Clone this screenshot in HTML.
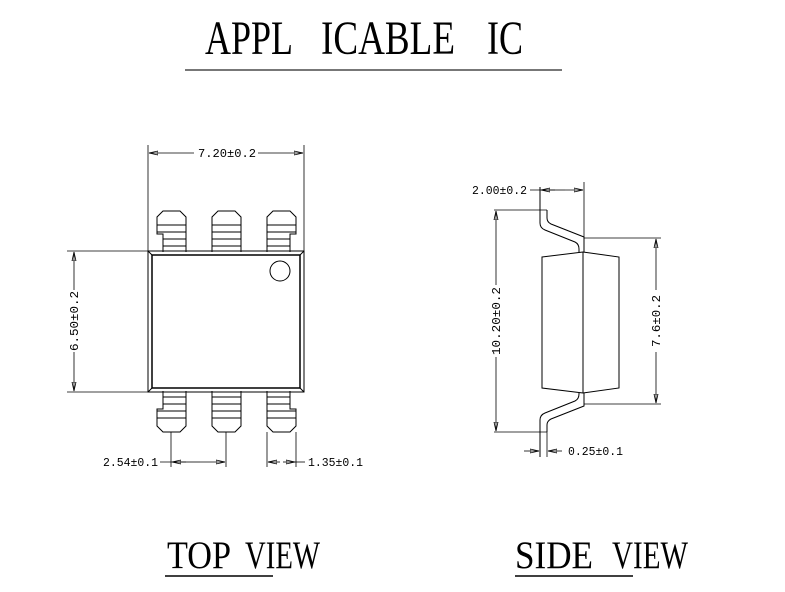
<!DOCTYPE html>
<html><head><meta charset="utf-8"><style>html,body{margin:0;padding:0;background:#fff}svg{display:block}</style></head>
<body>
<svg width="785" height="592" viewBox="0 0 785 592" xmlns="http://www.w3.org/2000/svg">
<defs>
<marker id="a" markerWidth="10" markerHeight="6" refX="9" refY="3" orient="auto" markerUnits="userSpaceOnUse"><path d="M0,1 L9,3 L0,5 Z" fill="none" stroke="#000" stroke-width="0.8"/></marker>
<g id="pinL" fill="none" stroke="#000" stroke-width="1">
<path d="M0,41 L0,23 L-6,23 L-6,6 L0,0 L17,0 L23,6 L23,41"/>
<line x1="-6" y1="14" x2="23" y2="14"/><line x1="-6" y1="21" x2="23" y2="21"/>
<line x1="0" y1="28" x2="23" y2="28"/><line x1="0" y1="35" x2="23" y2="35"/>
</g>
<g id="pinM" fill="none" stroke="#000" stroke-width="1">
<path d="M0,41 L0,6 L6,0 L23,0 L29,6 L29,41"/>
<line x1="0" y1="14" x2="29" y2="14"/><line x1="0" y1="21" x2="29" y2="21"/>
<line x1="0" y1="28" x2="29" y2="28"/><line x1="0" y1="35" x2="29" y2="35"/>
</g>
</defs>
<g font-family="'Liberation Serif', serif" fill="#000">
<text x="205" y="54" font-size="48" textLength="88" lengthAdjust="spacingAndGlyphs">APPL</text>
<text x="321" y="54" font-size="48" textLength="134" lengthAdjust="spacingAndGlyphs">ICABLE</text>
<text x="487" y="54" font-size="48" textLength="36" lengthAdjust="spacingAndGlyphs">IC</text>
<line x1="185" y1="70" x2="562" y2="70" stroke="#777" stroke-width="2"/>
<text x="167" y="568" font-size="39" textLength="64" lengthAdjust="spacingAndGlyphs">TOP</text>
<text x="245" y="568" font-size="39" textLength="75" lengthAdjust="spacingAndGlyphs">VIEW</text>
<line x1="165" y1="576" x2="273" y2="576" stroke="#000" stroke-width="1.5"/>
<text x="515" y="568" font-size="39" textLength="78" lengthAdjust="spacingAndGlyphs">SIDE</text>
<text x="612" y="568" font-size="39" textLength="76" lengthAdjust="spacingAndGlyphs">VIEW</text>
<line x1="515" y1="576" x2="633" y2="576" stroke="#000" stroke-width="1.5"/>
</g>
<g fill="none" stroke="#000" stroke-width="1">
<rect x="148" y="251" width="156" height="141"/>
<rect x="152" y="255" width="148" height="133" stroke-width="1.5"/>
<line x1="148" y1="251" x2="152" y2="255"/><line x1="304" y1="251" x2="300" y2="255"/>
<line x1="148" y1="392" x2="152" y2="388"/><line x1="304" y1="392" x2="300" y2="388"/>
<circle cx="280" cy="271" r="10"/>
</g>
<use href="#pinL" x="163" y="211"/>
<use href="#pinM" x="212" y="211"/>
<use href="#pinL" transform="translate(290,211) scale(-1,1)"/>
<use href="#pinL" transform="translate(163,432) scale(1,-1)"/>
<use href="#pinM" transform="translate(212,432) scale(1,-1)"/>
<use href="#pinL" transform="translate(290,432) scale(-1,-1)"/>
<g fill="none" stroke="#000" stroke-width="0.8">
<line x1="148" y1="145" x2="148" y2="251"/><line x1="304" y1="145" x2="304" y2="251"/>
<line x1="194" y1="153" x2="149" y2="153" marker-end="url(#a)"/>
<line x1="258" y1="153" x2="303" y2="153" marker-end="url(#a)"/>
<line x1="67" y1="251" x2="148" y2="251"/><line x1="67" y1="392" x2="148" y2="392"/>
<line x1="74" y1="290" x2="74" y2="252" marker-end="url(#a)"/>
<line x1="74" y1="352" x2="74" y2="391" marker-end="url(#a)"/>
<line x1="171" y1="432" x2="171" y2="467"/><line x1="226" y1="432" x2="226" y2="467"/>
<line x1="160" y1="462" x2="186" y2="462"/>
<line x1="186" y1="462" x2="172" y2="462" marker-end="url(#a)"/>
<line x1="200" y1="462" x2="225" y2="462" marker-end="url(#a)"/>
<line x1="186" y1="462" x2="200" y2="462"/>
<line x1="267" y1="432" x2="267" y2="467"/><line x1="296" y1="432" x2="296" y2="467"/>
<line x1="280" y1="462" x2="268" y2="462" marker-end="url(#a)"/>
<line x1="283" y1="462" x2="295" y2="462" marker-end="url(#a)"/>
<line x1="295" y1="462" x2="305" y2="462"/>
</g>
<g fill="none" stroke="#000" stroke-width="1">
<path d="M542,257 L583,252 L619,257 L619,388 L583,393 L542,388 Z"/>
<line x1="583" y1="252" x2="583" y2="393"/>
<path d="M540,187 L540,223 Q540,228 545,230 L575,242 Q579,244 579,249 L579,252"/>
<path d="M547,210 L547,218 Q547,222 551,224 L584,237 L584,252"/>
<path d="M540,457 L540,420 Q540,415 545,413 L575,401 Q579,399 579,394 L579,393"/>
<path d="M547,432 L547,425 Q547,421 551,419 L584,406 L584,393"/>
</g>
<g fill="none" stroke="#000" stroke-width="0.8">
<line x1="584" y1="182" x2="584" y2="252"/>
<line x1="530" y1="190" x2="555" y2="190"/>
<line x1="555" y1="190" x2="541" y2="190" marker-end="url(#a)"/>
<line x1="565" y1="190" x2="583" y2="190" marker-end="url(#a)"/>
<line x1="555" y1="190" x2="565" y2="190"/>
<line x1="494" y1="210" x2="547" y2="210"/><line x1="494" y1="432" x2="547" y2="432"/>
<line x1="496" y1="285" x2="496" y2="211" marker-end="url(#a)"/>
<line x1="496" y1="357" x2="496" y2="431" marker-end="url(#a)"/>
<line x1="584" y1="238" x2="661" y2="238"/><line x1="584" y1="404" x2="661" y2="404"/>
<line x1="656" y1="290" x2="656" y2="239" marker-end="url(#a)"/>
<line x1="656" y1="352" x2="656" y2="403" marker-end="url(#a)"/>
<line x1="547" y1="432" x2="547" y2="457"/>
<line x1="524" y1="451" x2="539" y2="451" marker-end="url(#a)"/>
<line x1="562" y1="451" x2="548" y2="451" marker-end="url(#a)"/>
</g>
<g font-family="'Liberation Mono', monospace" font-size="11.5" fill="#000">
<text x="198" y="157" textLength="58" lengthAdjust="spacingAndGlyphs">7.20±0.2</text>
<text transform="translate(78,351) rotate(-90)" textLength="60" lengthAdjust="spacingAndGlyphs">6.50±0.2</text>
<text x="103" y="466" textLength="55" lengthAdjust="spacingAndGlyphs">2.54±0.1</text>
<text x="308" y="466" textLength="55" lengthAdjust="spacingAndGlyphs">1.35±0.1</text>
<text x="472" y="194" textLength="55" lengthAdjust="spacingAndGlyphs">2.00±0.2</text>
<text transform="translate(500,355) rotate(-90)" textLength="68" lengthAdjust="spacingAndGlyphs">10.20±0.2</text>
<text transform="translate(660,347) rotate(-90)" textLength="52" lengthAdjust="spacingAndGlyphs">7.6±0.2</text>
<text x="568" y="455" textLength="55" lengthAdjust="spacingAndGlyphs">0.25±0.1</text>
</g>
</svg>
</body></html>
